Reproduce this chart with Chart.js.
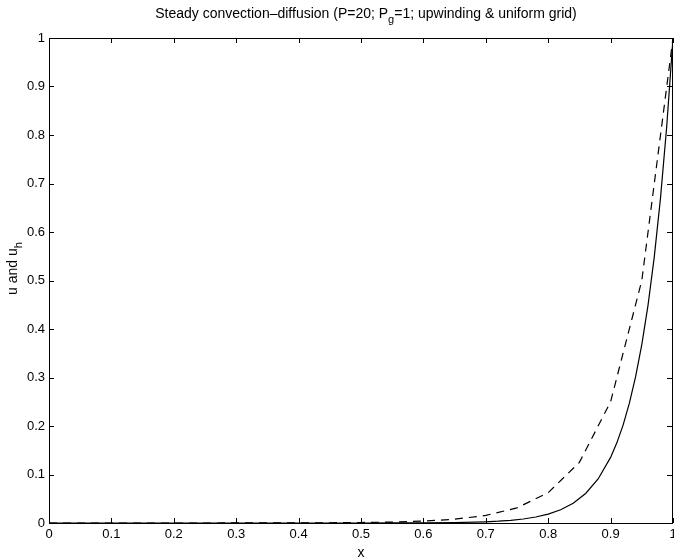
<!DOCTYPE html>
<html>
<head>
<meta charset="utf-8">
<script src="https://cdn.jsdelivr.net/npm/chart.js@4/dist/chart.umd.min.js"></script>
<style>
html,body{margin:0;padding:0;background:#fff;}
canvas{display:block;}
</style>
</head>
<body>
<canvas id="c" width="674" height="560"></canvas>
<script>
// Exact solution (solid)
const xExact = [0, 0.1, 0.2, 0.3, 0.4, 0.5, 0.55, 0.6, 0.65, 0.7, 0.72, 0.74, 0.76, 0.78, 0.8, 0.82, 0.84, 0.86, 0.88, 0.9, 0.91, 0.92, 0.93, 0.94, 0.95, 0.96, 0.97, 0.98, 0.99, 1.0];
const uExact = [0, 0, 0, 0, 0, 0.00005, 0.00012, 0.00034, 0.0009, 0.0025, 0.0037, 0.0055, 0.0082, 0.0123, 0.0183, 0.0273, 0.0408, 0.0608, 0.0907, 0.1353, 0.1653, 0.2019, 0.2466, 0.3012, 0.3679, 0.4493, 0.5488, 0.6703, 0.8187, 1.0];
// Upwind discrete solution (dashed)
const xUpwind = [0, 0.05, 0.1, 0.15, 0.2, 0.25, 0.3, 0.35, 0.4, 0.45, 0.5, 0.55, 0.6, 0.65, 0.7, 0.75, 0.8, 0.85, 0.9, 0.95, 1.0];
const uUpwind = [0, 0, 0, 0, 0, 0, 0.0001, 0.0001, 0.0002, 0.0005, 0.001, 0.002, 0.0039, 0.0078, 0.0156, 0.0312, 0.0625, 0.125, 0.25, 0.5, 1.0];
const xTicks = [0, 0.1, 0.2, 0.3, 0.4, 0.5, 0.6, 0.7, 0.8, 0.9, 1];
const yTicks = [0, 0.1, 0.2, 0.3, 0.4, 0.5, 0.6, 0.7, 0.8, 0.9, 1];
const titleParts = ['Steady convection\u2013diffusion (P=20; P', 'g', '=1; upwinding & uniform grid)'];
const yLabelParts = ['u and u', 'h'];
const xLabel = 'x';

const FONT = '"Liberation Sans", Arial, Helvetica, sans-serif';

const decor = {
  id: 'decor',
  afterDraw(chart) {
    const ctx = chart.ctx;
    const a = chart.chartArea;
    const xs = chart.scales.x, ys = chart.scales.y;
    ctx.save();
    ctx.strokeStyle = '#000';
    ctx.lineWidth = 1;
    // box
    ctx.strokeRect(Math.round(a.left) + 0.5, Math.round(a.top) + 0.5, Math.round(a.right - a.left) - 1, Math.round(a.bottom - a.top));
    // inward ticks
    const L = 5;
    ctx.beginPath();
    xTicks.forEach(v => {
      const px = Math.round(xs.getPixelForValue(v)) + 0.5;
      ctx.moveTo(px, a.bottom); ctx.lineTo(px, a.bottom - L);
      ctx.moveTo(px, a.top); ctx.lineTo(px, a.top + L);
    });
    yTicks.forEach(v => {
      const py = Math.round(ys.getPixelForValue(v)) + 0.5;
      ctx.moveTo(a.left, py); ctx.lineTo(a.left + L, py);
      ctx.moveTo(a.right - 1, py); ctx.lineTo(a.right - 1 - L, py);
    });
    ctx.stroke();

    ctx.fillStyle = '#000';
    // title with subscript
    const big = '14px ' + FONT, small = '11px ' + FONT;
    ctx.font = big;
    const w0 = ctx.measureText(titleParts[0]).width;
    const w2 = ctx.measureText(titleParts[2]).width;
    ctx.font = small;
    const w1 = ctx.measureText(titleParts[1]).width;
    const total = w0 + w1 + w2;
    let tx = (a.left + a.right) / 2 + 5 - total / 2;
    const ty = 18;
    ctx.textBaseline = 'alphabetic';
    ctx.textAlign = 'left';
    ctx.font = big; ctx.fillText(titleParts[0], tx, ty); tx += w0;
    ctx.font = small; ctx.fillText(titleParts[1], tx, ty + 5); tx += w1;
    ctx.font = big; ctx.fillText(titleParts[2], tx, ty);

    // x label
    ctx.font = '14px ' + FONT;
    ctx.textAlign = 'center';
    ctx.fillText(xLabel, (a.left + a.right) / 2, 557);

    // y label rotated with subscript
    ctx.save();
    ctx.translate(17, (a.top + a.bottom) / 2 - 12);
    ctx.rotate(-Math.PI / 2);
    ctx.font = big;
    const yw0 = ctx.measureText(yLabelParts[0]).width;
    ctx.font = small;
    const yw1 = ctx.measureText(yLabelParts[1]).width;
    let lx = -(yw0 + yw1) / 2;
    ctx.textAlign = 'left';
    ctx.font = big; ctx.fillText(yLabelParts[0], lx, 0); lx += yw0;
    ctx.font = small; ctx.fillText(yLabelParts[1], lx, 5);
    ctx.restore();
    ctx.restore();
  }
};

const tickFont = { family: FONT, size: 13 };
const fmt = v => Number(Number(v).toFixed(1)).toString();

new Chart(document.getElementById('c'), {
  type: 'line',
  data: {
    datasets: [
      {
        label: 'u',
        data: xExact.map((x, i) => ({ x: x, y: uExact[i] })),
        borderColor: '#000', borderWidth: 1.2, pointRadius: 0, tension: 0, fill: false
      },
      {
        label: 'u_h',
        data: xUpwind.map((x, i) => ({ x: x, y: uUpwind[i] })),
        borderColor: '#000', borderWidth: 1.2, borderDash: [8, 6], pointRadius: 0, tension: 0, fill: false
      }
    ]
  },
  options: {
    responsive: false,
    animation: false,
    devicePixelRatio: 1,
    layout: { padding: { top: 38, left: 0, right: 1, bottom: 0 } },
    plugins: { legend: { display: false }, tooltip: { enabled: false }, title: { display: false } },
    scales: {
      x: {
        type: 'linear', min: 0, max: 1,
        afterFit(s) { s.height = 37; s.paddingLeft = 0; s.paddingRight = 0; },
        afterBuildTicks(s) { s.ticks = xTicks.map(v => ({ value: v })); },
        grid: { display: false, drawTicks: false },
        border: { display: false },
        ticks: { color: '#000', font: tickFont, padding: 4, maxRotation: 0, autoSkip: false, callback: fmt }
      },
      y: {
        type: 'linear', min: 0, max: 1,
        afterFit(s) { s.width = 49; s.paddingTop = 0; s.paddingBottom = 0; },
        afterBuildTicks(s) { s.ticks = yTicks.map(v => ({ value: v })); },
        grid: { display: false, drawTicks: false },
        border: { display: false },
        ticks: { color: '#000', font: tickFont, padding: 4, autoSkip: false, callback: fmt }
      }
    }
  },
  plugins: [decor]
});
</script>
</body>
</html>
